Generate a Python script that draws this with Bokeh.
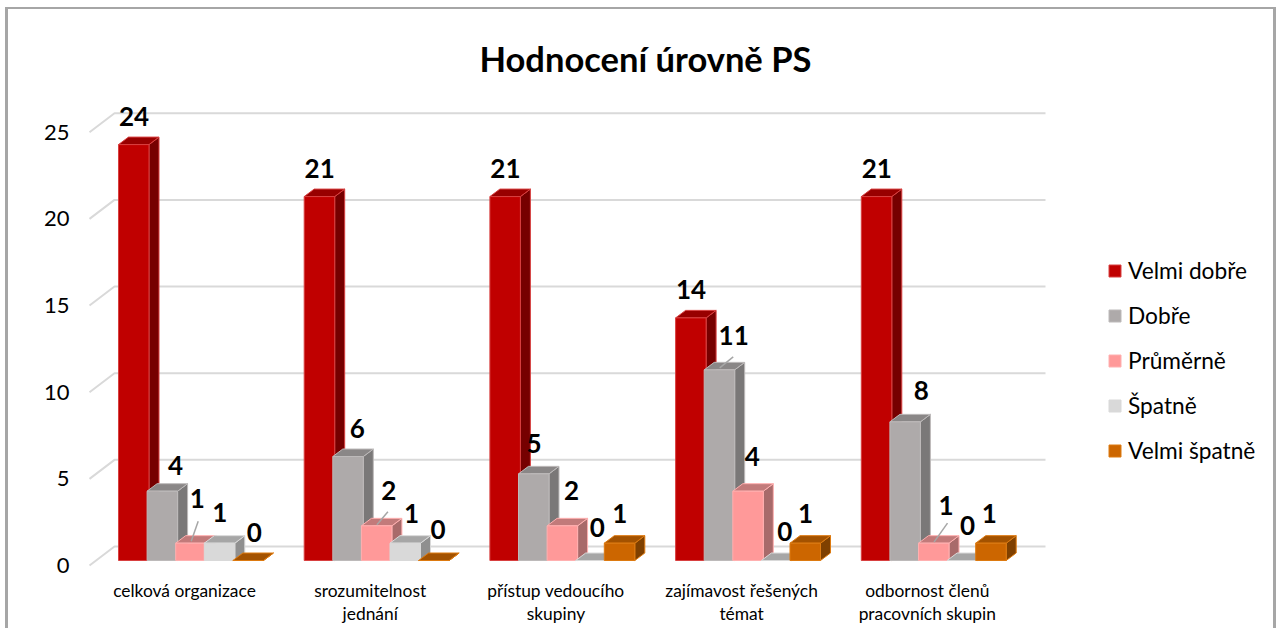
from bokeh.plotting import figure
from bokeh.models import Range1d, FixedTicker, Legend, LegendItem, ColumnDataSource
from bokeh.core.properties import value
from bokeh.embed import file_html
from bokeh.resources import INLINE

categories = ["celková organizace", "srozumitelnost\njednání", "přístup vedoucího\nskupiny",
              "zajímavost řešených\ntémat", "odbornost členů\npracovních skupin"]
series = ["Velmi dobře", "Dobře", "Průměrně", "Špatně", "Velmi špatně"]
velmi_dobre = [24, 21, 21, 14, 21]
dobre = [4, 6, 5, 11, 8]
prumerne = [1, 2, 2, 4, 1]
spatne = [1, 1, 0, 0, 0]
velmi_spatne = [0, 0, 1, 1, 1]
y_ticks = [0, 5, 10, 15, 20, 25]
all_values = [velmi_dobre, dobre, prumerne, spatne, velmi_spatne]

colors = [("#C00000", "#980000", "#760000", "#D84040"),
          ("#AEAAAA", "#8A8787", "#7A7878", "#BDBABA"),
          ("#FF9999", "#C27A7A", "#A86A6A", "#FFB0B0"),
          ("#D9D9D9", "#A6A6A6", "#8F8F8F", "#D9D9D9"),
          ("#CC6600", "#A35200", "#7F4000", "#DD7A10")]

label_dx = [[0, 13, 6, 0, 6], [0, 9, 12, 6, 4], [0, 0, 9, 6, 0], [0, 14, 4, 8, 0], [0, 16, 12, 5, -2]]
label_dy = [[-28, -26, -45, -31, -28], [-28, -28, -35, -30, -31], [-28, -30, -35, -33, -30],
            [-28, -34, -35, -29, -30], [-28, -31, -38, -35, -30]]
leaders = [(0, 2, 0, -2, 7, -22), (1, 2, 0, -1, 11, -14), (3, 1, 0, -2, 13.5, -13), (4, 2, 0, -1, 13.5, -20)]

PX = 185.7
PY = 17.33
BAR0 = -66 / PX
STEP = 28.6 / PX
W = 30.5 / PX
DX = 10 / PX
DY = 7.5 / PY
BASE = 5 / PY
BACKX = 25 / PX
BACKY = 19 / PY
GRID_L = (89 - 184) / PX
GRID_R = (1045 - 184) / PX

# the chart's border (left, top, right) comes from inset shadows behind a transparent canvas
p = figure(width=1276, height=628, output_backend="svg", toolbar_location=None,
           x_range=Range1d((78 - 184) / PX, (1270 - 184) / PX),
           y_range=Range1d((565 - 572) / PY, (565 - 90) / PY),
           min_border_left=78, min_border_top=90, min_border_bottom=56, min_border_right=6,
           outline_line_color=None, background_fill_color=None, border_fill_color=None,
           styles={"box-shadow": "inset 5px 7px 0 0 white, inset 8px 9px 0 0 #A6A6A6, inset -3px 0 0 0 #A6A6A6"})

p.title.text = "Hodnocení úrovně PS"
p.title.align = "left"
p.title.offset = 401
p.title.standoff = 24
p.title.text_font = "Lato"
p.title.text_font_size = "34.5px"
p.title.text_font_style = "bold"
p.title.text_color = "black"

p.grid.visible = False
yax = p.yaxis[0]
yax.ticker = FixedTicker(ticks=y_ticks)
xax = p.xaxis[0]
xax.ticker = FixedTicker(ticks=list(range(len(categories))))
xax.major_label_overrides = {i: c for i, c in enumerate(categories)}
for ax in (xax, yax):
    ax.axis_line_color = None
    ax.major_tick_line_color = None
    ax.minor_tick_line_color = None
    ax.major_tick_out = 0
    ax.major_tick_in = 0
    ax.minor_tick_out = 0
    ax.minor_tick_in = 0
    ax.major_label_text_font = "Lato"
    ax.major_label_text_color = "black"
yax.major_label_text_font_size = "22px"
yax.major_label_standoff = 9
xax.major_label_text_font_size = "17.4px"
xax.major_label_text_line_height = 1.1
xax.major_label_standoff = 7

gx = [[GRID_L, GRID_L + BACKX, GRID_R] for _ in y_ticks]
gy = [[t, t + BACKY, t + BACKY] for t in y_ticks]
p.multi_line(gx, gy, line_color="#D9D9D9", line_width=2)

legend_items = []
for i, name in enumerate(series):
    face_x, face_y, top_x, top_y, side_x, side_y = [], [], [], [], [], []
    for g, v in enumerate(all_values[i]):
        l = g + BAR0 + i * STEP
        r = l + W
        b = BASE
        t = BASE + v
        face_x.append([l, r, r, l]); face_y.append([b, b, t, t])
        top_x.append([l, r, r + DX, l + DX]); top_y.append([t, t, t + DY, t + DY])
        side_x.append([r, r + DX, r + DX, r]); side_y.append([b, b + DY, t + DY, t])
    f, tc, sc, ec = colors[i]
    p.patches(side_x, side_y, fill_color=sc, line_color=ec, line_width=1)
    p.patches(top_x, top_y, fill_color=tc, line_color=ec, line_width=1)
    r = p.patches(face_x, face_y, fill_color=f, line_color=ec, line_width=1)
    legend_items.append(LegendItem(label=name, renderers=[r]))

lx0, ly0, lx1, ly1 = [], [], [], []
for g, i, dx0, dy0, dx1, dy1 in leaders:
    v = all_values[i][g]
    cx = g + BAR0 + i * STEP + 15.5 / PX
    cy = BASE + v
    lx0.append(cx + dx0 / PX); ly0.append(cy - dy0 / PY)
    lx1.append(cx + dx1 / PX); ly1.append(cy - dy1 / PY)
p.segment(lx0, ly0, lx1, ly1, line_color="#A6A6A6", line_width=1.5)

tx, ty, tt, tdx, tdy = [], [], [], [], []
for i in range(len(series)):
    for g, v in enumerate(all_values[i]):
        tx.append(g + BAR0 + i * STEP + 15.5 / PX)
        ty.append(BASE + v)
        tt.append(str(v))
        tdx.append(label_dx[g][i])
        tdy.append(label_dy[g][i])
src = ColumnDataSource(dict(x=tx, y=ty, t=tt, dx=tdx, dy=tdy))
p.text(x="x", y="y", text="t", x_offset="dx", y_offset="dy", source=src,
       text_font=value("Lato"), text_font_style="bold", text_font_size="26px",
       text_color="black", text_align="center", text_baseline="middle")

legend = Legend(items=legend_items, location=(1029, 108), orientation="vertical",
                glyph_width=15, glyph_height=15, label_standoff=6, spacing=18,
                padding=0, margin=0, border_line_color=None, background_fill_alpha=0,
                label_text_font="Lato", label_text_font_size="22.7px", label_text_color="black")
p.add_layout(legend, "center")

open("out.html", "w").write(file_html(p, INLINE))
